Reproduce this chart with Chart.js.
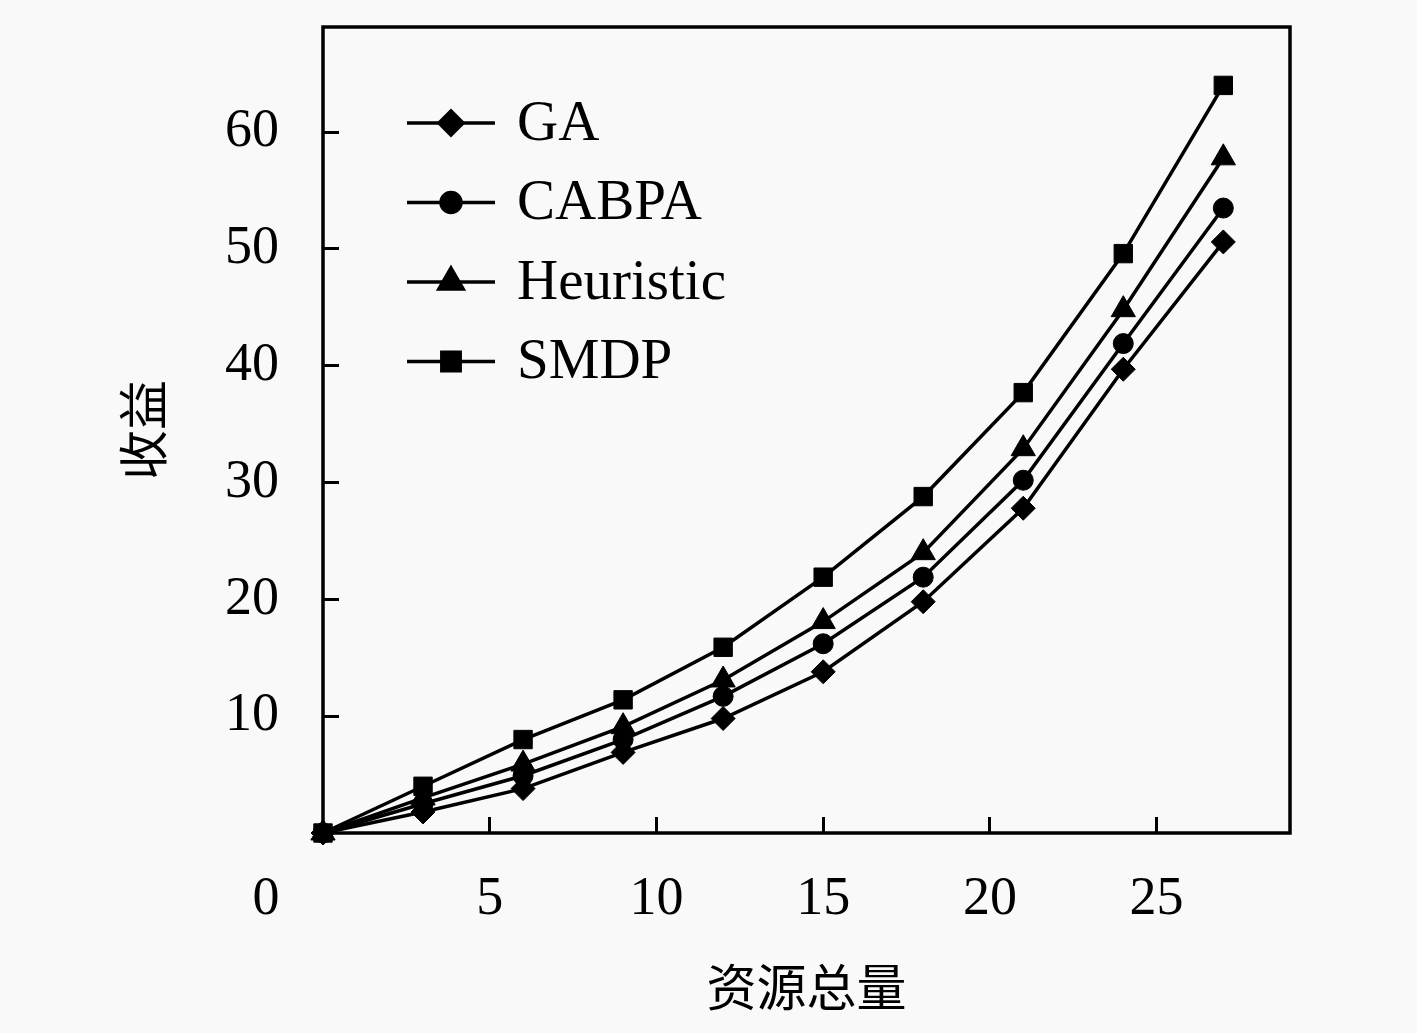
<!DOCTYPE html>
<html>
<head>
<meta charset="utf-8">
<script src="https://cdn.jsdelivr.net/npm/chart.js@4.4.1/dist/chart.umd.min.js"></script>
<style>
  html, body { margin: 0; padding: 0; background: #f9f9f9; overflow: hidden; }
  canvas { display: block; }
</style>
</head>
<body>
<canvas id="lineChart" width="1417" height="1033"></canvas>
<script>
// data
const resources = [0, 3, 6, 9, 12, 15, 18, 21, 24, 27];
const gaValues = [0, 1.8, 3.8, 6.9, 9.8, 13.8, 19.8, 27.8, 39.7, 50.6];
const cabpaValues = [0, 2.5, 4.9, 8.0, 11.7, 16.2, 21.9, 30.2, 41.9, 53.5];
const heuristicValues = [0, 3.0, 5.9, 9.1, 13.1, 18.1, 24.0, 32.9, 44.8, 57.8];
const smdpValues = [0, 4.0, 8.0, 11.4, 15.9, 21.9, 28.8, 37.7, 49.6, 64.0];
const xTicks = [5, 10, 15, 20, 25];
const yTicks = [10, 20, 30, 40, 50, 60];

const serif = '"Liberation Serif", "DejaVu Serif", serif';
const cjk = '"Noto Sans CJK SC", sans-serif';

function pts(ys) {
    return resources.map((x, i) => ({ x: x, y: ys[i] }));
}

const series = [
    { label: 'GA', data: gaValues, style: 'rectRot', r: 12 },
    { label: 'CABPA', data: cabpaValues, style: 'circle', r: 10 },
    { label: 'Heuristic', data: heuristicValues, style: 'triangle', r: 14 },
    { label: 'SMDP', data: smdpValues, style: 'rect', r: 13 }
];

// box around plot, the lone "0" at the corner and the legend inside the plot
const framePlugin = {
    id: 'frame',
    afterDraw(chart) {
        const ctx = chart.ctx;
        const a = chart.chartArea;
        const xs = chart.scales.x;
        ctx.save();
        ctx.strokeStyle = '#000';
        ctx.fillStyle = '#000';
        ctx.lineWidth = 3.5;
        ctx.strokeRect(a.left, a.top, a.right - a.left, a.bottom - a.top);

        ctx.font = '54px ' + serif;
        ctx.textAlign = 'center';
        ctx.textBaseline = 'middle';
        ctx.fillText('0', xs.getPixelForValue(0) - 57, 900);

        // legend
        const lx = a.left + 84;
        series.forEach((s, i) => {
            const y = a.top + 96 + i * 79.5;
            ctx.lineWidth = 3.5;
            ctx.beginPath();
            ctx.moveTo(lx, y);
            ctx.lineTo(lx + 88, y);
            ctx.stroke();
            Chart.helpers.drawPoint(ctx, { pointStyle: s.style, radius: s.r, borderWidth: 1 }, lx + 44, y);
            ctx.font = '57px ' + serif;
            ctx.textAlign = 'left';
            ctx.textBaseline = 'middle';
            ctx.fillText(s.label, lx + 110, y + 2);
        });
        ctx.restore();
    }
};

const ctx = document.getElementById('lineChart').getContext('2d');
new Chart(ctx, {
    type: 'line',
    data: {
        datasets: series.map(s => ({
            label: s.label,
            data: pts(s.data),
            borderColor: '#000',
            backgroundColor: '#000',
            borderWidth: 3.5,
            pointStyle: s.style,
            pointRadius: s.r,
            pointBorderWidth: 1,
            pointBackgroundColor: '#000',
            pointBorderColor: '#000',
            tension: 0,
            fill: false,
            clip: false
        }))
    },
    options: {
        responsive: false,
        animation: false,
        devicePixelRatio: 1,
        layout: { autoPadding: false, padding: { left: 113, right: 127, top: 27, bottom: 16 } },
        plugins: {
            legend: { display: false },
            tooltip: { enabled: false }
        },
        scales: {
            x: {
                type: 'linear',
                min: 0,
                max: 29,
                afterBuildTicks: s => { s.ticks = xTicks.map(v => ({ value: v })); },
                afterFit: s => {
                    s.height = 184;
                    s.paddingLeft = 0;
                    s.paddingRight = 0;
                },
                border: { display: false },
                grid: { drawOnChartArea: false, tickLength: -16, tickWidth: 3, color: '#000' },
                ticks: { color: '#000', padding: 50, font: { family: serif, size: 54 } },
                title: {
                    display: true,
                    text: '资源总量',
                    color: '#000',
                    padding: 0,
                    font: { family: cjk, size: 50 }
                }
            },
            y: {
                min: 0,
                max: 69,
                afterBuildTicks: s => { s.ticks = yTicks.map(v => ({ value: v })); },
                afterFit: s => {
                    s.width = 210;
                    s.paddingTop = 0;
                    s.paddingBottom = 0;
                },
                border: { display: false },
                grid: { drawOnChartArea: false, tickLength: -16, tickWidth: 3, color: '#000' },
                ticks: { color: '#000', padding: 60, font: { family: serif, size: 54 } },
                title: {
                    display: true,
                    text: '收益',
                    color: '#000',
                    padding: 0,
                    font: { family: cjk, size: 50 }
                }
            }
        }
    },
    plugins: [framePlugin]
});
</script>
</body>
</html>
